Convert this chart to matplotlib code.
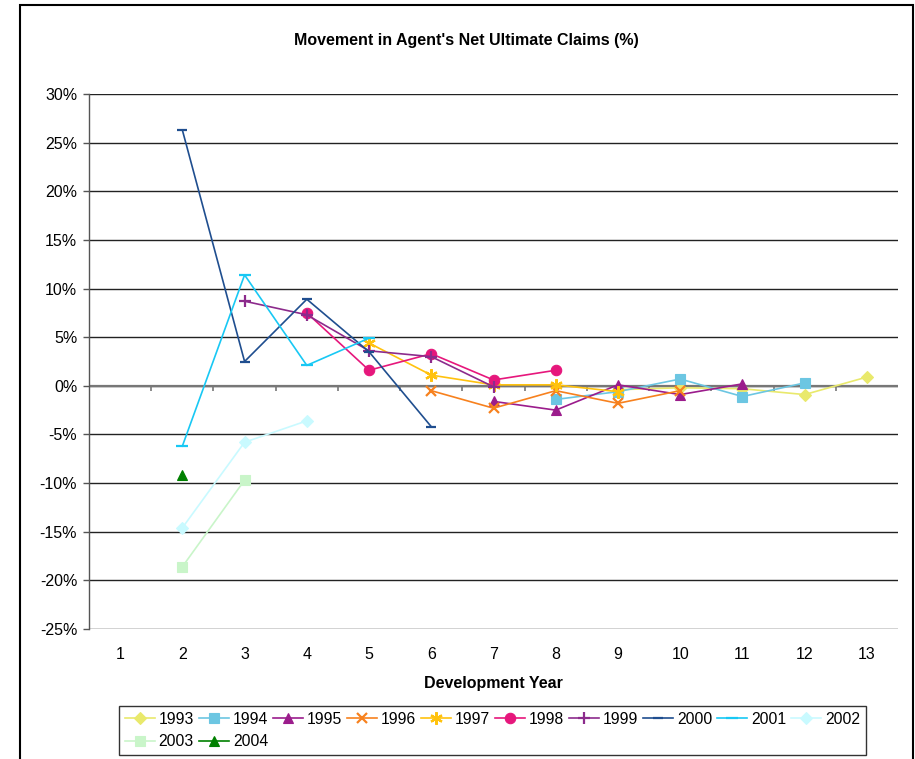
import numpy as np
import matplotlib
matplotlib.use('Agg')
import matplotlib.pyplot as plt
from matplotlib.patches import Rectangle

plt.rcParams['font.family'] = ['Liberation Sans', 'DejaVu Sans']

# Movimiento (%) por año de origen; cada serie arranca en su primer año de desarrollo
years = ['1993', '1994', '1995', '1996', '1997', '1998', '1999', '2000', '2001', '2002', '2003', '2004']
start_dev = [9, 8, 7, 6, 5, 4, 3, 2, 2, 2, 2, 2]
movement = [
    [-0.4, -0.2, -0.3, -0.9, 0.9],
    [-1.4, -0.6, 0.7, -1.1, 0.3],
    [-1.6, -2.5, 0.1, -0.9, 0.2],
    [-0.5, -2.3, -0.5, -1.8, -0.5],
    [4.4, 1.1, 0.1, 0.1, -0.6],
    [7.5, 1.6, 3.3, 0.6, 1.6],
    [8.7, 7.3, 3.6, 3.0, -0.1],
    [26.3, 2.5, 8.9, 3.5, -4.2],
    [-6.2, 11.4, 2.1, 4.9],
    [-14.6, -5.8, -3.6],
    [-18.6, -9.7],
    [-9.2],
]
dev_years = list(range(1, 14))
y_ticks = list(range(-25, 31, 5))

colores = ['#E9E96C', '#6CC6E2', '#9B1C8C', '#F7811E', '#FFC20E', '#E6177C',
           '#8C2B8C', '#1F4E8F', '#18C8F4', '#C9FAFF', '#C9F5C9', '#008000']
marcadores = ['D', 's', '^', 'x', (6, 2, 0), 'o', '+', '_', '_', 'D', 's', '^']
tamanos = [6, 7, 7.5, 7, 9, 7.5, 9, 7, 8, 6, 7, 7.5]

fig = plt.figure(figsize=(9.15, 7.59), dpi=100)
ax = fig.add_axes([89/915, 1-629/759, (898-89)/915, (629-94)/759])

lineas = []
for i in range(len(years)):
    x = np.arange(start_dev[i], start_dev[i] + len(movement[i]))
    l, = ax.plot(x, movement[i], color=colores[i], marker=marcadores[i], markersize=tamanos[i],
                 markeredgewidth=1.6 if marcadores[i] in ('x', '+', '_', (6, 2, 0)) else 0.8,
                 markeredgecolor=colores[i], linewidth=1.2, label=years[i], zorder=3)
    lineas.append(l)

ax.set_xlim(0.5, 13.5)
ax.set_ylim(-25, 30)
ax.set_yticks(y_ticks)
ax.set_yticklabels(['%d%%' % v for v in y_ticks])
ax.set_xticks(dev_years)
ax.set_xticklabels([str(d) for d in dev_years])
ax.grid(axis='y', color='#222222', linewidth=1.0)
ax.set_axisbelow(True)

for s in ['top', 'right', 'bottom']:
    ax.spines[s].set_visible(False)
ax.spines['left'].set_color('#555555')
ax.spines['left'].set_linewidth(1.0)
ax.tick_params(axis='y', length=4, width=1, color='#555555', pad=4.5, labelsize=11.5)
ax.tick_params(axis='x', length=0, pad=13, labelsize=11.5)

# eje de categorías en el cero con marcas entre años
ax.axhline(0, color='#777777', linewidth=1.6, zorder=2)
ax.vlines(np.arange(1.5, 13.5, 1), -0.55, 0, color='#777777', linewidth=1.2, zorder=2)

ax.set_xlabel('Development Year', fontsize=11.5, fontweight='bold', labelpad=10)
fig.text(466/915, 1 - 40/759, "Movement in Agent's Net Ultimate Claims (%)",
         ha='center', va='center', fontsize=11.5, fontweight='bold')

# leyenda en dos filas, orden por filas
orden = [0, 10, 1, 11, 2, 3, 4, 5, 6, 7, 8, 9]
leg = fig.legend([lineas[k] for k in orden], [years[k] for k in orden], ncol=10,
                 loc='upper left', bbox_to_anchor=(119/915, 1 - 706/759),
                 frameon=True, fancybox=False, edgecolor='black', fontsize=11.3,
                 handlelength=1.9, handletextpad=0.25, columnspacing=0.32,
                 borderpad=0.38, labelspacing=0.45, borderaxespad=0)
leg.get_frame().set_linewidth(1.0)

# marco exterior del gráfico
fig.patches.append(Rectangle((20/915, -0.05), (913-20)/915, 1 - 5/759 + 0.05,
                             transform=fig.transFigure, fill=False, edgecolor='black',
                             linewidth=1.5))

fig.savefig('out.png', dpi=100)
